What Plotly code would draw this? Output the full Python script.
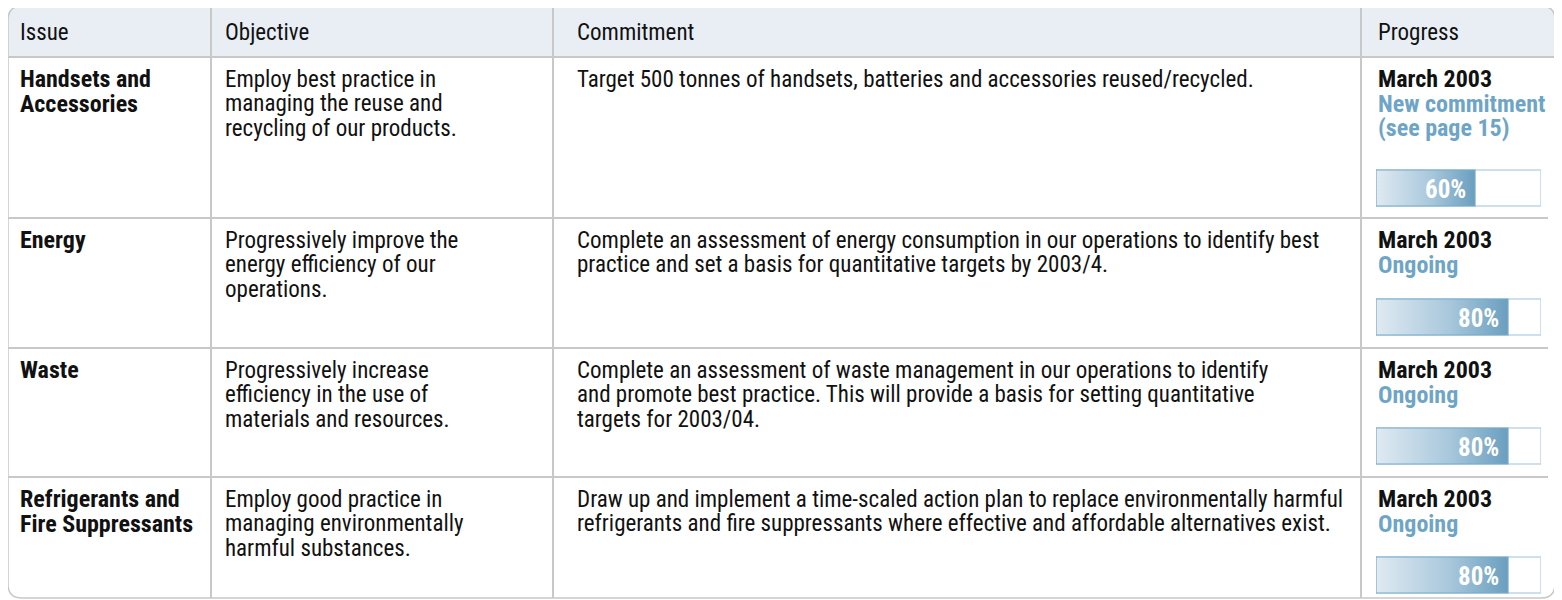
import plotly.graph_objects as go

# ---------------- data ----------------
headers = ["Issue", "Objective", "Commitment", "Progress"]
issues = [
    ["Handsets and", "Accessories"],
    ["Energy"],
    ["Waste"],
    ["Refrigerants and", "Fire Suppressants"],
]
objectives = [
    ["Employ best practice in", "managing the reuse and", "recycling of our products."],
    ["Progressively improve the", "energy efficiency of our", "operations."],
    ["Progressively increase", "efficiency in the use of", "materials and resources."],
    ["Employ good practice in", "managing environmentally", "harmful substances."],
]
commitments = [
    ["Target 500 tonnes of handsets, batteries and accessories reused/recycled."],
    ["Complete an assessment of energy consumption in our operations to identify best",
     "practice and set a basis for quantitative targets by 2003/4."],
    ["Complete an assessment of waste management in our operations to identify",
     "and promote best practice. This will provide a basis for setting quantitative",
     "targets for 2003/04."],
    ["Draw up and implement a time-scaled action plan to replace environmentally harmful",
     "refrigerants and fire suppressants where effective and affordable alternatives exist."],
]
progress_dates = ["March 2003", "March 2003", "March 2003", "March 2003"]
progress_status = [
    ["New commitment", "(see page 15)"],
    ["Ongoing"],
    ["Ongoing"],
    ["Ongoing"],
]
progress_pct = [60, 80, 80, 80]

# ---------------- layout / style ----------------
W, H = 1562, 600
OFF = 8  # page body margin: screen coordinates = data coordinates
FONT = "Roboto Condensed, Liberation Sans Narrow, Arial Narrow, sans-serif"
FS = 23
FSB = 24
LINE = 24.5
col_edges = [8, 211, 553, 1361, 1555]
row_edges = [6, 57, 218, 348, 477, 598]
text_x = [18, 223, 575, 1376]
bar_tops = [170, 299, 428, 557]
bar_h = 36
bar_x0, bar_x1 = 1376, 1541
GRID = "#c8c8c8"
HEAD_BG = "#e9eef5"
BLUE = "#6ea5c7"
TXT = "#111111"
R = 14

fig = go.Figure()
shapes = []
ann = []

L, T, Rt, B = col_edges[0], row_edges[0], col_edges[-1], row_edges[-1]
hb = row_edges[1]
shapes.append(dict(type="path", xref="x", yref="y",
    path=f"M {L},{hb} L {L},{T+R} Q {L},{T} {L+R},{T} L {Rt-R},{T} Q {Rt},{T} {Rt},{T+R} L {Rt},{hb} Z",
    fillcolor=HEAD_BG, line=dict(width=0), layer="below"))
shapes.append(dict(type="line", xref="x", yref="y", x0=L, x1=Rt, y0=hb, y1=hb,
                   line=dict(color=GRID, width=2)))
for y in row_edges[2:-1]:
    shapes.append(dict(type="line", xref="x", yref="y", x0=L, x1=Rt - 7, y0=y, y1=y,
                       line=dict(color=GRID, width=2)))
for x in col_edges[1:-1]:
    shapes.append(dict(type="line", xref="x", yref="y", x0=x, x1=x, y0=T, y1=B,
                       line=dict(color=GRID, width=2)))
shapes.append(dict(type="path", xref="x", yref="y",
    path=(f"M {L+R},{T} L {Rt-R},{T} Q {Rt},{T} {Rt},{T+R} L {Rt},{B-R} Q {Rt},{B} {Rt-R},{B} "
          f"L {L+R},{B} Q {L},{B} {L},{B-R} L {L},{T+R} Q {L},{T} {L+R},{T} Z"),
    line=dict(color=GRID, width=1.5)))

def add_text(x, y, s, bold=False, color=TXT):
    ann.append(dict(x=x, y=y, xref="x", yref="y", text=(f"<b>{s}</b>" if bold else s),
                    showarrow=False, xanchor="left", yanchor="middle",
                    font=dict(family=FONT, size=(FSB if bold else FS), color=color)))

for i, h in enumerate(headers):
    add_text(text_x[i], (row_edges[0] + row_edges[1]) / 2 + 1, h)

for r in range(len(issues)):
    top = row_edges[r + 1]
    y0 = top + 22
    for k, s in enumerate(issues[r]):
        add_text(text_x[0], y0 + k * LINE, s, bold=True)
    for k, s in enumerate(objectives[r]):
        add_text(text_x[1], y0 + k * LINE, s)
    for k, s in enumerate(commitments[r]):
        add_text(text_x[2], y0 + k * LINE, s)
    add_text(text_x[3], y0, progress_dates[r], bold=True)
    for k, s in enumerate(progress_status[r]):
        add_text(text_x[3], y0 + (k + 1) * LINE, s, bold=True, color=BLUE)

    bt, bb = bar_tops[r], bar_tops[r] + bar_h
    shapes.append(dict(type="rect", xref="x2", yref="y", x0=0, x1=100, y0=bt, y1=bb,
                       line=dict(color="#bcd6e7", width=1.5), fillcolor="white", layer="below"))
    v = progress_pct[r]
    fig.add_trace(go.Scatter(
        x=[0, v, v, 0, 0], y=[bt, bt, bb, bb, bt], xaxis="x2", yaxis="y",
        mode="lines", fill="toself", line=dict(color="#78a9c7", width=1.2),
        fillgradient=dict(type="horizontal",
                          colorscale=[[0, "#e0eaf2"], [0.55, "#a9c8dc"], [1, "#6a9fbf"]]),
        hoverinfo="skip", showlegend=False))
    ann.append(dict(x=v, y=(bt + bb) / 2 + 1, xref="x2", yref="y", text=f"<b>{v}%</b>",
                    showarrow=False, xanchor="right", yanchor="middle", xshift=-7,
                    font=dict(family=FONT, size=25, color="white")))

fig.update_layout(
    width=W, height=H, margin=dict(l=0, r=0, t=0, b=0),
    paper_bgcolor="white", plot_bgcolor="rgba(0,0,0,0)",
    xaxis=dict(range=[OFF, W + OFF], visible=False, domain=[0, 1], fixedrange=True),
    yaxis=dict(range=[H + OFF, OFF], visible=False, domain=[0, 1], fixedrange=True),
    xaxis2=dict(range=[0, 100], visible=False,
                domain=[(bar_x0 - OFF) / W, (bar_x1 - OFF) / W],
                anchor="y", fixedrange=True),
    shapes=shapes, annotations=ann, showlegend=False,
)
fig.write_html("out.html")
